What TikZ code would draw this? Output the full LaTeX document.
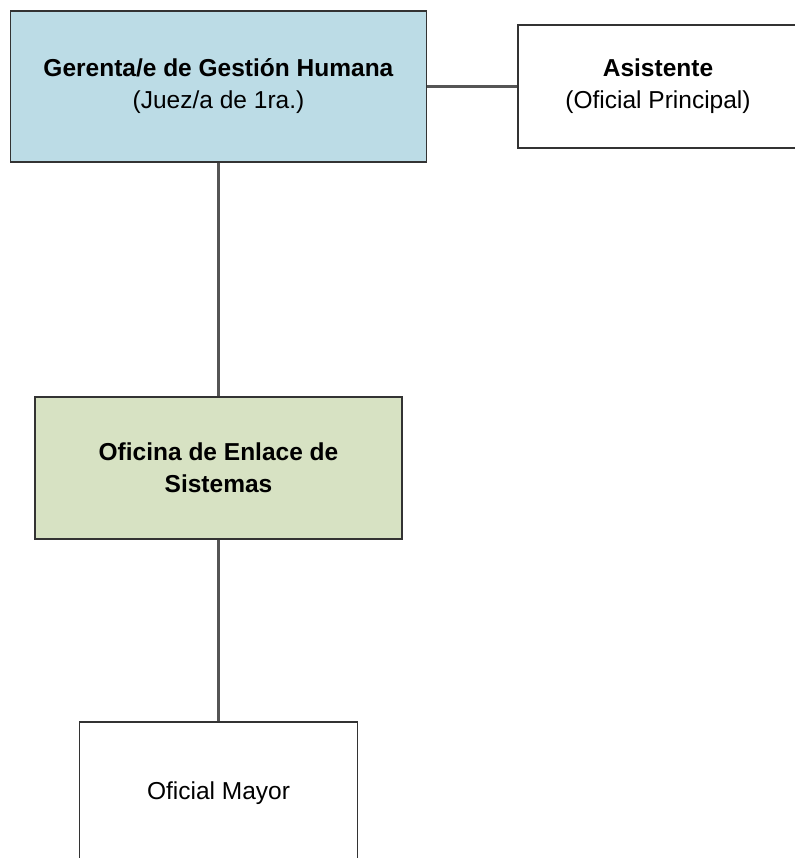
\documentclass[tikz,border=0pt]{standalone}
\usepackage{fontspec}
\setmainfont{Liberation Sans}
\definecolor{gerblue}{HTML}{BCDCE6}
\definecolor{enlgreen}{HTML}{D7E2C3}
\definecolor{boxline}{HTML}{333333}
\definecolor{linkgray}{HTML}{555555}
\begin{document}
\begin{tikzpicture}[x=1pt, y=-1pt,
    font=\fontsize{24.5}{32}\selectfont,
    cargo/.style={draw=boxline, line width=1.7pt, align=center, inner sep=0pt},
    link/.style={draw=linkgray, line width=2.2pt}]

\def\W{794}
\def\H{858}
\def\xM{218.5}

\useasboundingbox (0,0) rectangle (\W,\H);

\node[cargo, fill=gerblue, minimum width=416pt, minimum height=151pt]
    (gerente) at (\xM, 86.5) {\textbf{Gerenta/e de Gestión Humana}\\(Juez/a de 1ra.)};
\node[cargo, fill=white, minimum width=280pt, minimum height=123pt]
    (asistente) at (658, 86.5) {\textbf{Asistente}\\(Oficial Principal)};
\node[cargo, fill=enlgreen, minimum width=367pt, minimum height=142pt]
    (enlace) at (\xM, 468) {\textbf{Oficina de Enlace de}\\\textbf{Sistemas}};
\node[cargo, fill=white, minimum width=278pt, minimum height=142pt]
    (mayor) at (\xM, 793) {Oficial Mayor};

\draw[link] (gerente.east) -- (asistente.west);
\draw[link] (gerente.south) -- (enlace.north);
\draw[link] (enlace.south) -- (mayor.north);
\end{tikzpicture}
\end{document}
